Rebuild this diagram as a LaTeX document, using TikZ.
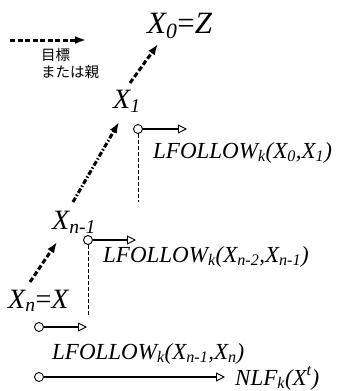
\documentclass[tikz,border=0pt]{standalone}
\usepackage{fontspec}
\setmainfont{Liberation Serif}
\newfontfamily\jpfont{Noto Sans CJK JP}
\usetikzlibrary{arrows.meta}
\newcommand{\sub}[1]{\textsubscript{\textit{#1}}}
\begin{document}
\begin{tikzpicture}[x=1pt,y=-1pt,
  big/.style={inner sep=0pt,anchor=base west,font=\fontsize{28}{30}\selectfont\itshape},
  lab/.style={inner sep=0pt,anchor=base west,font=\fontsize{23}{26}\selectfont\itshape},
  jp/.style={inner sep=0pt,anchor=west,font=\fontsize{14.5}{16}\jpfont},
  goalarrow/.style={line width=3pt,dash pattern=on 5pt off 2.5pt,-{Latex[length=11pt,width=8pt]}},
  dasharrow/.style={line width=3pt,dash pattern=on 5pt off 2pt on 1.5pt off 2pt,-{Latex[length=11pt,width=8pt]}},
  vdash/.style={line width=1pt,dash pattern=on 4pt off 2pt},
  startdot/.style={circle,draw,line width=0.9pt,minimum size=9pt,inner sep=0pt,fill=white},
  flow/.style={line width=2.8pt,-{Triangle[open,length=9pt,width=9pt,line width=0.9pt]}}
]
\useasboundingbox (0,0) rectangle (339,391);
% legend
\coordinate (la) at (10,40);
\coordinate (lb) at (86,40);
\draw[goalarrow] (la) -- (lb);
\node[jp] (j1) at (41,55) {目標};
\node[jp] (j2) at (41,72) {または親};
% chain labels
\node[big,font=\fontsize{31}{33}\selectfont\itshape] (x0) at (147,33) {X\sub{0}\textup{=}Z};
\node[big] (x1) at (113,108) {X\sub{1}};
\node[big] (xn1) at (52,229) {X\sub{n-1}};
\node[big] (xn) at (8,308) {X\sub{n}\textup{=}X};
% chain arrows
\coordinate (a1) at (130,83);
\coordinate (a2) at (158,44);
\draw[goalarrow] (a1) -- (a2);
\coordinate (b1) at (73,202);
\coordinate (b2) at (119,122);
\draw[dasharrow] (b1) -- (b2);
\coordinate (c1) at (30,282);
\coordinate (c2) at (57,242);
\draw[goalarrow] (c1) -- (c2);
% follow arrows
\node[startdot] (d1) at (138,129) {};
\coordinate (e1) at (187,129);
\draw[flow] (d1) -- (e1);
\coordinate (v1) at (138,202);
\draw[vdash] (d1.south) -- (v1);
\node[lab] (l1) at (153,158) {LFOLLOW\sub{k}(X\sub{0},X\sub{1})};

\node[startdot] (d2) at (88,240) {};
\coordinate (e2) at (136,240);
\draw[flow] (d2) -- (e2);
\coordinate (v2) at (88,315);
\draw[vdash] (d2.south) -- (v2);
\node[lab] (l2) at (103,262) {LFOLLOW\sub{k}(X\sub{n-2},X\sub{n-1})};

\node[startdot] (d3) at (39,327) {};
\coordinate (e3) at (87,327);
\draw[flow] (d3) -- (e3);
\node[lab] (l3) at (52,359) {LFOLLOW\sub{k}(X\sub{n-1},X\sub{n})};

\node[startdot] (d4) at (39,377) {};
\coordinate (e4) at (225,377);
\draw[flow] (d4) -- (e4);
\node[lab] (l4) at (235,385) {NLF\sub{k}(X\textsuperscript{\textit{t}})};
\end{tikzpicture}
\end{document}
